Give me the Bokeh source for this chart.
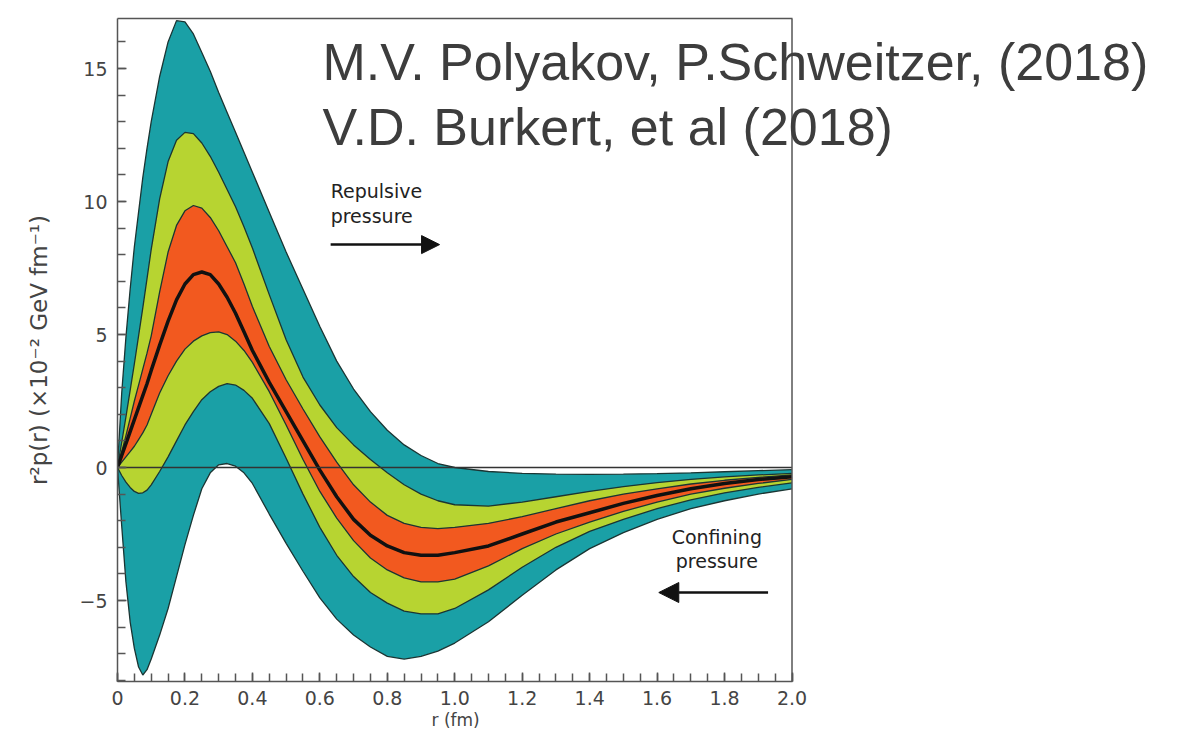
from bokeh.plotting import figure
from bokeh.models import Range1d, Label, Arrow, NormalHead, FixedTicker, Span, LinearAxis, Title
from bokeh.embed import file_html
from bokeh.resources import INLINE

# radius r (fm)
r = [0, 0.0125, 0.025, 0.0375, 0.05, 0.0625, 0.075, 0.0875, 0.1, 0.125, 0.15, 0.175,
     0.2, 0.225, 0.25, 0.275, 0.3, 0.325, 0.35, 0.375, 0.4, 0.45, 0.5, 0.55, 0.6,
     0.65, 0.7, 0.75, 0.8, 0.85, 0.9, 0.95, 1.0, 1.1, 1.2, 1.3, 1.4, 1.5, 1.6, 1.7,
     1.8, 1.9, 2.0]

# r^2 p(r) (x10^-2 GeV fm^-1)
outer_upper = [0, 2.8, 4.9, 6.7, 8.3, 9.6, 10.9, 12.0, 13.0, 14.7, 16.0, 16.8,
               16.75, 16.3, 15.6, 14.9, 14.1, 13.35, 12.6, 11.85, 11.1, 9.6, 8.1, 6.7, 5.3,
               4.0, 2.95, 2.1, 1.4, 0.85, 0.45, 0.15, 0.0, -0.15, -0.22, -0.25, -0.26, -0.25, -0.23, -0.2,
               -0.16, -0.12, -0.08]
yellow_upper = [0, 0.95, 1.9, 2.9, 3.9, 4.95, 6.0, 7.1, 8.2, 10.1, 11.5, 12.3,
                12.6, 12.55, 12.2, 11.7, 11.1, 10.45, 9.8, 9.05, 8.25, 6.5, 4.8, 3.4, 2.35,
                1.5, 0.85, 0.3, -0.2, -0.65, -1.0, -1.25, -1.4, -1.45, -1.3, -1.1, -0.9, -0.72, -0.57, -0.45,
                -0.35, -0.28, -0.22]
orange_upper = [0, 0.6, 1.2, 1.85, 2.5, 3.1, 3.7, 4.3, 4.95, 6.6, 8.1, 9.1,
                9.65, 9.85, 9.75, 9.4, 8.9, 8.3, 7.7, 6.9, 6.05, 4.55, 3.3, 2.2, 1.15,
                0.2, -0.65, -1.3, -1.8, -2.1, -2.25, -2.3, -2.25, -2.1, -1.85, -1.55, -1.25, -1.0, -0.8, -0.62,
                -0.48, -0.37, -0.28]
central = [0, 0.45, 0.9, 1.35, 1.8, 2.25, 2.7, 3.15, 3.65, 4.6, 5.5, 6.3,
           6.9, 7.25, 7.35, 7.25, 6.9, 6.4, 5.8, 5.1, 4.4, 3.2, 2.1, 1.0, -0.1,
           -1.1, -1.95, -2.55, -2.95, -3.2, -3.3, -3.3, -3.2, -2.95, -2.5, -2.05, -1.7, -1.35, -1.05, -0.8,
           -0.6, -0.45, -0.35]
orange_lower = [0, 0.2, 0.4, 0.6, 0.8, 1.05, 1.3, 1.6, 2.0, 2.8, 3.45, 4.0,
                4.45, 4.75, 4.95, 5.07, 5.1, 5.0, 4.75, 4.4, 3.95, 2.85, 1.6, 0.3, -0.9,
                -1.9, -2.75, -3.4, -3.85, -4.15, -4.3, -4.3, -4.2, -3.7, -3.05, -2.5, -2.05, -1.65, -1.3, -1.0,
                -0.78, -0.6, -0.45]
yellow_lower = [0, -0.3, -0.55, -0.75, -0.9, -0.97, -0.95, -0.85, -0.65, -0.15, 0.4, 1.0,
                1.6, 2.1, 2.55, 2.85, 3.05, 3.15, 3.1, 2.9, 2.6, 1.65, 0.35, -1.0, -2.25,
                -3.3, -4.1, -4.7, -5.1, -5.4, -5.5, -5.5, -5.3, -4.6, -3.75, -3.0, -2.4, -1.95, -1.55, -1.22,
                -0.95, -0.75, -0.58]
outer_lower = [0, -2.2, -4.3, -5.8, -6.8, -7.5, -7.8, -7.6, -7.2, -6.3, -5.3, -4.1,
               -2.9, -1.8, -0.8, -0.2, 0.1, 0.15, 0.05, -0.2, -0.6, -1.75, -2.85, -3.9, -4.9,
               -5.7, -6.3, -6.75, -7.1, -7.2, -7.1, -6.9, -6.6, -5.8, -4.8, -3.85, -3.05, -2.45, -1.95, -1.55,
               -1.25, -1.0, -0.8]

x_ticks = [0, 0.2, 0.4, 0.6, 0.8, 1.0, 1.2, 1.4, 1.6, 1.8, 2.0]
x_tick_labels = ["0", "0.2", "0.4", "0.6", "0.8", "1.0", "1.2", "1.4", "1.6", "1.8", "2.0"]
x_minor = [i * 0.05 for i in range(41)]
y_ticks = [-5, 0, 5, 10, 15]
y_tick_labels = ["\u22125", "0", "5", "10", "15"]
y_minor = list(range(-8, 17))

CYAN = "#1aa0a6"
YELLOW = "#b7d431"
ORANGE = "#f2591f"
EDGE = "#1b3533"
AXIS = "#555555"
FONT = "DejaVu Sans"

x_lo, x_hi = r[0], r[-1]

# the frame reaches the right edge of the page, so the citation text is not clipped;
# the axes are bounded to 0..2 fm and the right border is drawn at 2 fm
p = figure(width=1178, height=736, output_backend="svg", toolbar_location=None,
           x_range=Range1d(0, 3.146), y_range=Range1d(-8.045, 16.88),
           min_border_left=117, min_border_right=0, min_border_top=18, min_border_bottom=55)
p.background_fill_color = "white"
p.border_fill_color = "white"
p.grid.visible = False
p.outline_line_color = None

p.varea(x=r, y1=outer_lower, y2=outer_upper, fill_color=CYAN)
p.varea(x=r, y1=yellow_lower, y2=yellow_upper, fill_color=YELLOW)
p.varea(x=r, y1=orange_lower, y2=orange_upper, fill_color=ORANGE)
for ys in [outer_upper, yellow_upper, orange_upper, orange_lower, yellow_lower, outer_lower]:
    p.line(x=r, y=ys, line_color=EDGE, line_width=1.3)
p.line(x=r, y=central, line_color="#111111", line_width=3.5)
# zero line across the data range
p.line(x=[x_lo, x_hi], y=[0, 0], line_color="#333333", line_width=1.5)
# right border of the box
p.add_layout(Span(location=x_hi, dimension="height", line_color=AXIS, line_width=1.5))

# axes
for ax in (p.xaxis[0], p.yaxis[0]):
    ax.axis_line_color = AXIS
    ax.axis_line_width = 1.5
    ax.major_tick_line_color = AXIS
    ax.minor_tick_line_color = AXIS
    ax.major_tick_line_width = 1.5
    ax.minor_tick_line_width = 1.5
    ax.major_tick_in = 9
    ax.major_tick_out = 0
    ax.minor_tick_in = 8
    ax.minor_tick_out = 0
    ax.major_label_text_font = FONT
    ax.major_label_text_font_size = "19px"
    ax.major_label_text_color = "#444444"

xa = p.xaxis[0]
xa.bounds = (x_lo, x_hi)
xa.ticker = FixedTicker(ticks=x_ticks, minor_ticks=x_minor)
xa.major_label_overrides = {t: s for t, s in zip(x_ticks, x_tick_labels)}
xa.major_label_standoff = 9

ya = p.yaxis[0]
ya.ticker = FixedTicker(ticks=y_ticks, minor_ticks=y_minor)
ya.major_label_overrides = {t: s for t, s in zip(y_ticks, y_tick_labels)}
ya.major_label_standoff = 10
ya.axis_label = "r\u00b2p(r) (\u00d710\u207b\u00b2 GeV fm\u207b\u00b9)"
ya.axis_label_text_font = FONT
ya.axis_label_text_font_size = "23px"
ya.axis_label_text_font_style = "normal"
ya.axis_label_text_color = "#444444"
ya.axis_label_standoff = 24

# x-axis title, centred under the 0..2 fm axis
p.add_layout(Title(text="r (fm)", align="left", offset=431 - 117, standoff=0,
                   text_font=FONT, text_font_size="17px", text_font_style="normal",
                   text_color="#444444"), "below")

# top border of the box, bounded to 0..2 fm
top = LinearAxis(bounds=(x_lo, x_hi), ticker=FixedTicker(ticks=[]), axis_line_color=AXIS,
                 axis_line_width=1.5, major_tick_line_color=None, minor_tick_line_color=None,
                 major_label_standoff=0)
p.add_layout(top, "above")

# annotations
for txt, yy in (("Repulsive", 10.38), ("pressure", 9.44)):
    p.add_layout(Label(x=0.632, y=yy, text=txt, text_align="left", text_baseline="middle",
                       text_font=FONT, text_font_size="19px", text_color="#222222"))
p.add_layout(Arrow(end=NormalHead(size=18, fill_color="#111111", line_color="#111111"),
                   x_start=0.632, y_start=8.38, x_end=0.955, y_end=8.38,
                   line_color="#111111", line_width=2.5))
for txt, yy in (("Confining", -2.63), ("pressure", -3.50)):
    p.add_layout(Label(x=1.777, y=yy, text=txt, text_align="center", text_baseline="middle",
                       text_font=FONT, text_font_size="19px", text_color="#222222"))
p.add_layout(Arrow(end=NormalHead(size=20, fill_color="#111111", line_color="#111111"),
                   x_start=1.929, y_start=-4.70, x_end=1.605, y_end=-4.70,
                   line_color="#111111", line_width=2.5))

# citation text
for txt, yy in (("M.V. Polyakov, P.Schweitzer, (2018)", 15.25), ("V.D. Burkert, et al (2018)", 12.79)):
    p.add_layout(Label(x=0.608, y=yy, text=txt, text_align="left", text_baseline="middle",
                       text_font="Liberation Sans", text_font_size="52px", text_color="#3d3d3d"))

open("out.html", "w").write(file_html(p, INLINE))
